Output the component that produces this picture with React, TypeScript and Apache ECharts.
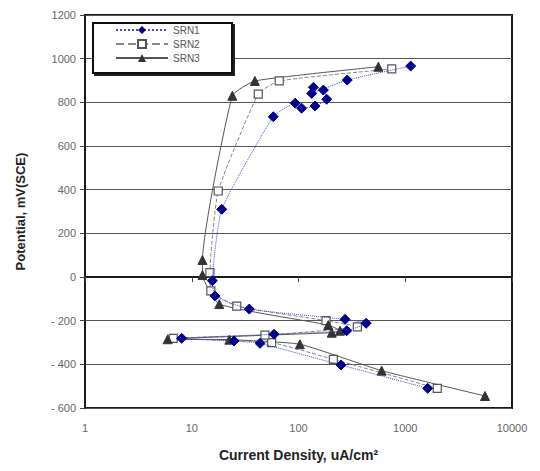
import React, { useEffect, useRef } from "react";
import * as echarts from "echarts";

const yTicks = [-600, -400, -200, 0, 200, 400, 600, 800, 1000, 1200];
const xTicks = [1, 10, 100, 1000, 10000];

const srn1X = [1622, 250, 43.6, 24.9, 8.05, 59, 283, 430, 273, 34.6, 16.5, 15.6, 19.1, 58, 93, 107, 143, 184, 171, 138, 133, 286, 1125];
const srn1Y = [-510, -403, -304, -293, -281, -262, -246, -212, -194, -147, -87, -17, 310, 734, 796, 773, 783, 814, 856, 869, 841, 902, 966];

const srn2X = [1995, 212, 56, 6.7, 48.5, 356, 181, 26.4, 15.1, 14.8, 17.7, 42, 66, 747];
const srn2Y = [-510, -377, -301, -281, -266, -228, -200, -133, -64, 20, 394, 838, 898, 953];

const srn3X = [5590, 601, 103, 22.5, 5.95, 205, 245, 190, 18.1, 12.6, 12.6, 24, 39, 560];
const srn3Y = [-545, -429, -308, -287, -285, -255, -246, -220, -124, 9, 78, 830, 898, 963];

const FONT = "'Liberation Sans', Arial, sans-serif";

function pairs(xs: number[], ys: number[]) {
  return xs.map((x, i) => [x, ys[i]]);
}

export default function App() {
  const ref = useRef<HTMLDivElement>(null);
  useEffect(() => {
    if (!ref.current) return;
    const chart = echarts.init(ref.current, undefined, { renderer: "svg" });
    chart.setOption({
      animation: false,
      backgroundColor: "#fff",
      grid: {
        left: 85,
        top: 15,
        right: 28,
        bottom: 63,
        show: true,
        borderColor: "#1a1a1a",
        borderWidth: 2,
        backgroundColor: "transparent",
      },
      xAxis: {
        type: "log",
        logBase: 10,
        min: xTicks[0],
        max: xTicks[xTicks.length - 1],
        name: "Current Density, uA/cm²",
        nameLocation: "middle",
        nameGap: 40,
        nameTextStyle: { fontFamily: FONT, fontSize: 14, fontWeight: "bold", color: "#222" },
        axisLine: { show: true, lineStyle: { color: "#1a1a1a", width: 2 } },
        axisTick: { show: true, length: 5, lineStyle: { color: "#444" } },
        minorTick: { show: false },
        splitLine: { show: false },
        axisLabel: {
          fontFamily: FONT,
          fontSize: 11,
          color: "#666",
          margin: 14,
          formatter: (v: number) => String(Math.round(v)),
        },
      },
      yAxis: {
        type: "value",
        min: yTicks[0],
        max: yTicks[yTicks.length - 1],
        interval: 200,
        name: "Potential, mV(SCE)",
        nameLocation: "middle",
        nameGap: 58,
        nameTextStyle: { fontFamily: FONT, fontSize: 13, fontWeight: "bold", color: "#222" },
        axisLine: { show: true, lineStyle: { color: "#1a1a1a", width: 2 } },
        axisTick: { show: true, length: 5, lineStyle: { color: "#444" } },
        splitLine: { show: true, lineStyle: { color: "#555", width: 1 } },
        axisLabel: {
          fontFamily: FONT,
          fontSize: 11,
          color: "#666",
          margin: 9,
          formatter: (v: number) => (v < 0 ? "- " + Math.abs(v) : String(v)),
        },
      },
      legend: {
        left: 115,
        top: 25,
        orient: "vertical",
        padding: 0,
        itemGap: 4,
        itemWidth: 52,
        itemHeight: 10,
        z: 6,
        textStyle: { fontFamily: FONT, fontSize: 10, color: "#555" },
        data: ["SRN1", "SRN2", "SRN3"],
      },
      graphic: [
        {
          type: "rect",
          z: 5,
          shape: { x: 93, y: 23, width: 139, height: 50 },
          style: {
            fill: "#fff",
            stroke: "#111",
            lineWidth: 2,
            shadowColor: "#222",
            shadowOffsetX: 2,
            shadowOffsetY: 2,
            shadowBlur: 0,
          },
        },
      ],
      series: [
        {
          name: "SRN1",
          type: "line",
          data: pairs(srn1X, srn1Y),
          symbol: "diamond",
          symbolSize: 10,
          smooth: 0.15,
          itemStyle: { color: "#00008b", borderColor: "#00008b" },
          lineStyle: { color: "#4a4ad0", width: 1, type: "dotted" },
          z: 4,
        },
        {
          name: "SRN2",
          type: "line",
          data: pairs(srn2X, srn2Y),
          symbol: "rect",
          symbolSize: 8,
          smooth: 0.15,
          itemStyle: { color: "#fff", borderColor: "#555", borderWidth: 1.2 },
          lineStyle: { color: "#888", width: 1, type: "dashed" },
          z: 3,
        },
        {
          name: "SRN3",
          type: "line",
          data: pairs(srn3X, srn3Y),
          symbol: "triangle",
          symbolSize: 9,
          smooth: 0.15,
          itemStyle: { color: "#333", borderColor: "#333" },
          lineStyle: { color: "#555", width: 1, type: "solid" },
          z: 3,
        },
      ],
    });
    return () => chart.dispose();
  }, []);
  return (
    <div
      ref={ref}
      style={{ position: "fixed", left: 0, top: 0, width: 540, height: 471, background: "#fff" }}
    />
  );
}
